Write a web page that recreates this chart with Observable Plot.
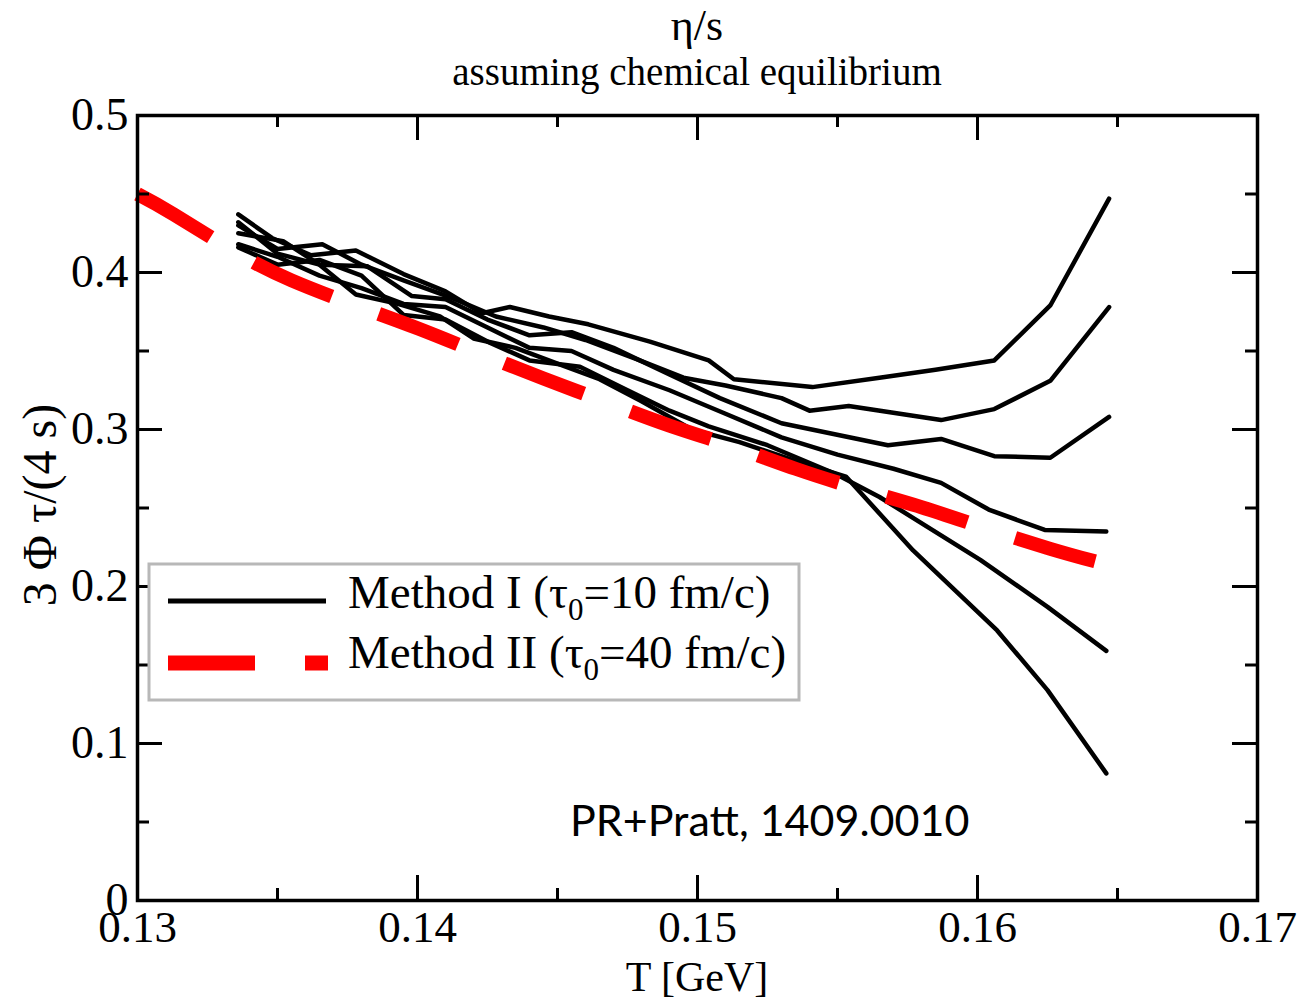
<!DOCTYPE html>
<html><head><meta charset="utf-8">
<script src="https://cdn.jsdelivr.net/npm/d3@7"></script>
<script src="https://cdn.jsdelivr.net/npm/@observablehq/plot@0.6"></script>
<style>
body{margin:0;background:#fff;}
#wrap{position:relative;width:1301px;height:1001px;}
#over{position:absolute;left:0;top:0;pointer-events:none;}
</style></head><body><div id="wrap"></div>
<script>
// ---- Method I runs (tau0 = 10 fm/c), T [GeV] and 3*Phi*tau/(4s)
const runA_T = [0.1336,0.1348,0.1362,0.1378,0.1395,0.1410,0.1423,0.1433,0.1447,0.1461,0.1483,0.1504,0.1513,0.1541,0.1565,0.1585,0.1606,0.1626,0.1647];
const runA_Y = [0.437,0.422,0.411,0.414,0.399,0.388,0.374,0.378,0.372,0.367,0.356,0.344,0.332,0.327,0.333,0.338,0.344,0.379,0.447];
const runB_T = [0.1336,0.1350,0.1366,0.1380,0.1395,0.1412,0.1428,0.1445,0.1460,0.1478,0.1495,0.1510,0.1530,0.1540,0.1554,0.1587,0.1606,0.1626,0.1647];
const runB_Y = [0.430,0.415,0.418,0.405,0.395,0.384,0.372,0.365,0.357,0.345,0.333,0.328,0.320,0.312,0.315,0.306,0.313,0.331,0.378];
const runC_T = [0.1336,0.1352,0.1365,0.1382,0.1398,0.1410,0.1425,0.1440,0.1455,0.1470,0.1490,0.1508,0.1530,0.1568,0.1587,0.1606,0.1626,0.1647];
const runC_Y = [0.425,0.420,0.405,0.404,0.385,0.383,0.370,0.360,0.362,0.352,0.335,0.320,0.304,0.290,0.294,0.283,0.282,0.308];
const runD_T = [0.1336,0.1350,0.1365,0.1380,0.1395,0.1410,0.1425,0.1440,0.1455,0.1470,0.1490,0.1510,0.1530,0.1550,0.1570,0.1587,0.1604,0.1624,0.1646];
const runD_Y = [0.418,0.410,0.398,0.390,0.380,0.378,0.365,0.352,0.350,0.338,0.325,0.310,0.295,0.284,0.275,0.266,0.249,0.236,0.235];
const runE_T = [0.1336,0.1350,0.1365,0.1380,0.1395,0.1410,0.1425,0.1440,0.1458,0.1475,0.1490,0.1504,0.1525,0.1549,0.1565,0.1601,0.1625,0.1646];
const runE_Y = [0.416,0.405,0.408,0.398,0.373,0.370,0.356,0.344,0.340,0.325,0.312,0.302,0.290,0.272,0.257,0.217,0.187,0.159];
const runF_T = [0.1336,0.1350,0.1365,0.1378,0.1393,0.1408,0.1420,0.1435,0.1450,0.1465,0.1480,0.1498,0.1515,0.1535,0.1553,0.1577,0.1607,0.1625,0.1646];
const runF_Y = [0.432,0.412,0.405,0.386,0.380,0.372,0.358,0.352,0.342,0.332,0.318,0.300,0.292,0.280,0.270,0.223,0.172,0.134,0.081];

// ---- Method II (tau0 = 40 fm/c)
const methodII_T = [0.1300,0.1313,0.1335,0.1355,0.1378,0.1400,0.1423,0.1445,0.1468,0.1490,0.1513,0.1535,0.1558,0.1580,0.1603,0.1626,0.1642];
const methodII_Y = [0.450,0.437,0.413,0.395,0.379,0.3645,0.348,0.3325,0.317,0.3025,0.289,0.275,0.262,0.2505,0.237,0.224,0.216];

// ---- ticks
const xTickLabels = [0.13,0.14,0.15,0.16,0.17];
const yTickLabels = [0,0.1,0.2,0.3,0.4,0.5];
const xMajor = [0.14,0.15,0.16];
const xMinor = [0.135,0.145,0.155,0.165];
const yMajor = [0.1,0.2,0.3,0.4];
const yMinor = [0.05,0.15,0.25,0.35,0.45];

const runs = [["A",runA_T,runA_Y],["B",runB_T,runB_Y],["C",runC_T,runC_Y],["D",runD_T,runD_Y],["E",runE_T,runE_Y],["F",runF_T,runF_Y]];
const methodI = runs.flatMap(([id,T,Y]) => T.map((t,i) => ({run:id, T:t, v:Y[i]})));
const methodII = methodII_T.map((t,i) => ({T:t, v:methodII_Y[i]}));

const W = 1301, H = 1001, mL = 137, mR = 44, mT = 115, mB = 101;
const fw = W - mL - mR, fh = H - mT - mB;
const serif = "'Liberation Serif','Times New Roman',serif";
const majorLen = 25, minorLen = 12;

const chart = Plot.plot({
  width: W, height: H,
  marginLeft: mL, marginRight: mR, marginTop: mT, marginBottom: mB,
  style: {fontFamily: serif, color: "black", background: "white"},
  x: {domain: [0.13, 0.17]},
  y: {domain: [0, 0.5]},
  marks: [
    Plot.line(methodI, {x: "T", y: "v", z: "run", stroke: "black", strokeWidth: 4.5, strokeLinejoin: "round"}),
    Plot.line(methodII, {x: "T", y: "v", stroke: "#ff0000", strokeWidth: 14, strokeDasharray: "85,50", strokeLinecap: "butt", curve: "natural"}),
    // inward ticks, bottom / top
    Plot.tickX(xMajor, {x: d => d, insetTop: fh - majorLen, stroke: "black", strokeWidth: 3}),
    Plot.tickX(xMajor, {x: d => d, insetBottom: fh - majorLen, stroke: "black", strokeWidth: 3}),
    Plot.tickX(xMinor, {x: d => d, insetTop: fh - minorLen, stroke: "black", strokeWidth: 3}),
    Plot.tickX(xMinor, {x: d => d, insetBottom: fh - minorLen, stroke: "black", strokeWidth: 3}),
    // inward ticks, left / right
    Plot.tickY(yMajor, {y: d => d, insetRight: fw - majorLen, stroke: "black", strokeWidth: 3}),
    Plot.tickY(yMajor, {y: d => d, insetLeft: fw - majorLen, stroke: "black", strokeWidth: 3}),
    Plot.tickY(yMinor, {y: d => d, insetRight: fw - minorLen, stroke: "black", strokeWidth: 3}),
    Plot.tickY(yMinor, {y: d => d, insetLeft: fw - minorLen, stroke: "black", strokeWidth: 3}),
    Plot.frame({stroke: "black", strokeWidth: 3.5}),
    Plot.axisX({ticks: xTickLabels, tickFormat: d => String(d), tickSize: 0, tickPadding: 10, fontSize: 45, fontFamily: serif, label: null}),
    Plot.axisY({ticks: yTickLabels, tickFormat: d => String(d), tickSize: 0, tickPadding: 9, fontSize: 46, fontFamily: serif, label: null})
  ]
});
const wrap = document.getElementById("wrap");
wrap.appendChild(chart);

// overlay: title, subtitle, axis titles, legend, credit
const ns = "http://www.w3.org/2000/svg";
const over = document.createElementNS(ns, "svg");
over.setAttribute("id", "over");
over.setAttribute("width", W); over.setAttribute("height", H);
over.innerHTML = `
<g font-family="${serif}" fill="black">
  <text x="697" y="40" text-anchor="middle" font-size="44">η/s</text>
  <text x="697" y="85" text-anchor="middle" font-size="39">assuming chemical equilibrium</text>
  <text x="697" y="991" text-anchor="middle" font-size="42">T [GeV]</text>
  <text transform="translate(56,505) rotate(-90)" text-anchor="middle" font-size="48">3 Φ τ/(4 s)</text>
  <rect x="149" y="564" width="650" height="136" fill="white" stroke="#b8b8b8" stroke-width="3"/>
  <line x1="168" x2="326" y1="601" y2="601" stroke="black" stroke-width="5"/>
  <line x1="168" x2="328" y1="663" y2="663" stroke="#ff0000" stroke-width="15" stroke-dasharray="87,50"/>
  <text x="348" y="608" font-size="47">Method I (τ<tspan dy="12" font-size="31">0</tspan><tspan dy="-12">=10 fm/c)</tspan></text>
  <text x="348" y="668" font-size="47">Method II (τ<tspan dy="12" font-size="31">0</tspan><tspan dy="-12">=40 fm/c)</tspan></text>
</g>
<text x="570" y="836" font-family="Lato, 'Open Sans', sans-serif" font-size="43" fill="black">PR+Pratt, 1409.0010</text>
`;
wrap.appendChild(over);
</script>
</body></html>
